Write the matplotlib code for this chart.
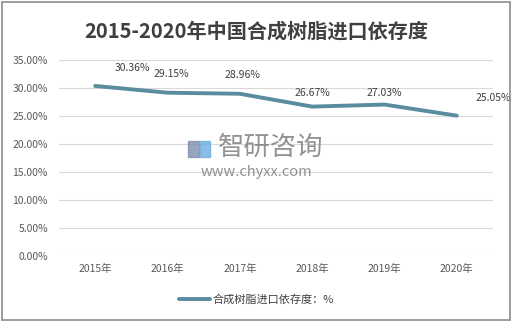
import matplotlib
matplotlib.use('Agg')
import matplotlib.pyplot as plt
from matplotlib.patches import Rectangle
from matplotlib.ticker import FuncFormatter

plt.rcParams['font.family'] = ['Noto Sans CJK SC', 'DejaVu Sans']

years = ['2015年', '2016年', '2017年', '2018年', '2019年', '2020年']
ratio = [30.36, 29.15, 28.96, 26.67, 27.03, 25.05]
series_name = '合成树脂进口依存度：%'
title = '2015-2020年中国合成树脂进口依存度'

line_c = '#5a8ca0'
txt_c = '#404040'

fig = plt.figure(figsize=(5.13, 3.24), dpi=100)
ax = fig.add_axes([0.115, 0.21, 0.846, 0.605])

x = list(range(len(years)))
ax.plot(x, ratio, color=line_c, lw=2.8, solid_capstyle='round', zorder=3,
        label=series_name)

# value labels sit above each point; first and last are pushed right
offsets = [(27, 9), (3, 10), (2, 10), (0, 6), (0, 5), (26, 9)]
for xi, v, (dx, dy) in zip(x, ratio, offsets):
    ax.annotate(f'{v:.2f}%', (xi, v), xytext=(dx, dy), textcoords='offset points',
                ha='center', va='bottom', fontsize=7.5, color=txt_c)

ax.set_xlim(-0.5, len(years) - 0.5)
ax.set_ylim(0, 35)
ax.set_yticks([0, 5, 10, 15, 20, 25, 30, 35])
ax.yaxis.set_major_formatter(FuncFormatter(lambda v, p: f'{v:.2f}%'))
ax.set_xticks(x)
ax.set_xticklabels(years)
ax.tick_params(axis='both', length=0, labelsize=7.5, colors='#595959')
ax.tick_params(axis='y', pad=8)
ax.tick_params(axis='x', pad=6)
ax.grid(axis='y', color='#d9d9d9', lw=0.8)
ax.set_axisbelow(True)
for s in ax.spines.values():
    s.set_visible(False)

fig.text(0.5, 0.905, title, ha='center', va='center', fontsize=14.5,
         fontweight='bold', color=txt_c)

# watermark
fig.text(0.528, 0.545, '智研咨询', ha='center', va='center', fontsize=19,
         color='#7f7f7f', alpha=0.85)
fig.text(0.50, 0.468, 'www.chyxx.com', ha='center', va='center', fontsize=10.5,
         color='#7f7f7f', alpha=0.85)
fig.patches.append(Rectangle((0.366, 0.515), 0.022, 0.05, transform=fig.transFigure,
                             color='#7f8fb0', alpha=0.8))
fig.patches.append(Rectangle((0.390, 0.515), 0.020, 0.05, transform=fig.transFigure,
                             color='#6aaee0', alpha=0.8))

leg = fig.legend(loc='center', bbox_to_anchor=(0.5, 0.075), frameon=False,
                 fontsize=8, handlelength=2.8, handletextpad=0.3)
for t in leg.get_texts():
    t.set_color(txt_c)

fig.patches.append(Rectangle((0.004, 0.012), 0.991, 0.982, transform=fig.transFigure,
                             fill=False, edgecolor='#8c8c8c', lw=1.2))

fig.savefig('out.png', dpi=100, facecolor='white')
